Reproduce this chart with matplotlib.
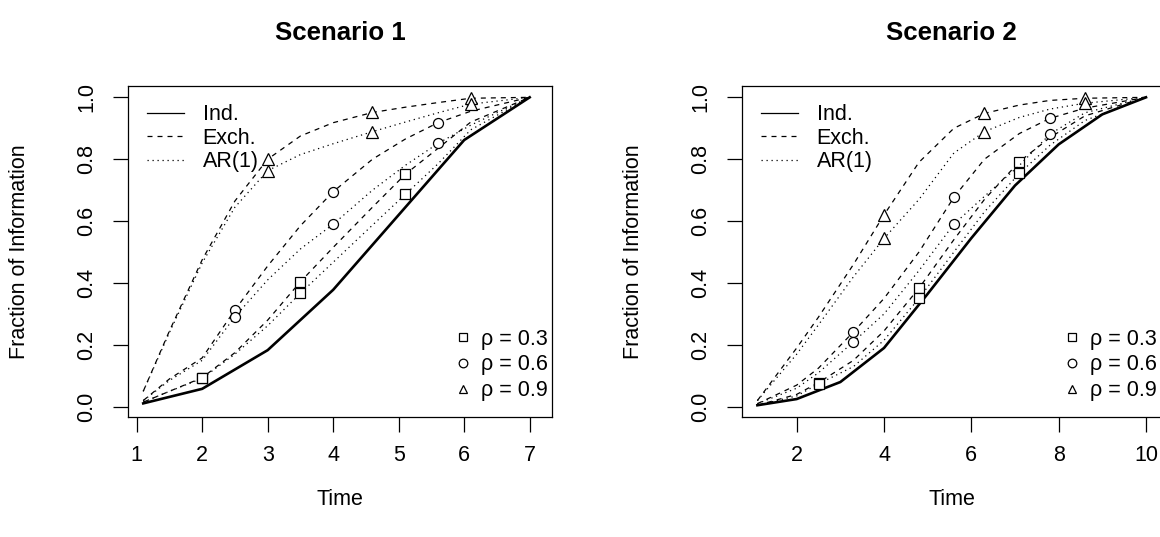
import matplotlib
matplotlib.use("Agg")
import matplotlib.pyplot as plt
from matplotlib.lines import Line2D

plt.rcParams['font.family'] = ['Liberation Sans', 'DejaVu Sans']
plt.rcParams['lines.scale_dashes'] = False

# Scenario 1 -- independence working correlation
s1_ind_time = [1.1, 2, 3, 4, 5, 6, 7]
s1_ind = [0.011, 0.058, 0.183, 0.378, 0.62, 0.862, 1.0]

# Scenario 1 -- exchangeable / AR(1) curves for rho = 0.3, 0.6, 0.9
s1_time = [1.1, 1.5, 2.0, 2.5, 3.0, 3.5, 4.0, 4.6, 5.1, 5.6, 6.1, 7.0]
s1_exch_03 = [0.015, 0.05, 0.094, 0.175, 0.28, 0.404, 0.515, 0.645, 0.751, 0.835, 0.92, 1.0]
s1_ar1_03 = [0.015, 0.05, 0.092, 0.17, 0.262, 0.367, 0.467, 0.587, 0.686, 0.785, 0.895, 1.0]
s1_exch_06 = [0.02, 0.09, 0.158, 0.313, 0.455, 0.585, 0.695, 0.80, 0.865, 0.918, 0.955, 1.0]
s1_ar1_06 = [0.02, 0.085, 0.15, 0.291, 0.41, 0.51, 0.59, 0.70, 0.78, 0.851, 0.91, 1.0]
s1_exch_09 = [0.05, 0.245, 0.475, 0.665, 0.80, 0.875, 0.918, 0.951, 0.968, 0.983, 0.997, 1.0]
s1_ar1_09 = [0.05, 0.24, 0.465, 0.645, 0.763, 0.815, 0.85, 0.889, 0.92, 0.95, 0.978, 1.0]

# Scenario 2
s2_ind_time = [1.1, 2, 3, 4, 5, 6, 7, 8, 9, 10]
s2_ind = [0.005, 0.025, 0.08, 0.19, 0.365, 0.545, 0.715, 0.848, 0.945, 1.0]

s2_time = [1.1, 2.0, 2.5, 3.3, 4.0, 4.8, 5.6, 6.3, 7.1, 7.8, 8.6, 10.0]
s2_exch_03 = [0.005, 0.04, 0.078, 0.15, 0.245, 0.383, 0.54, 0.67, 0.792, 0.87, 0.94, 1.0]
s2_ar1_03 = [0.005, 0.035, 0.074, 0.13, 0.215, 0.35, 0.50, 0.63, 0.754, 0.845, 0.925, 1.0]
s2_exch_06 = [0.01, 0.07, 0.125, 0.242, 0.35, 0.50, 0.677, 0.80, 0.883, 0.932, 0.965, 1.0]
s2_ar1_06 = [0.01, 0.06, 0.11, 0.21, 0.30, 0.44, 0.59, 0.68, 0.78, 0.881, 0.95, 1.0]
s2_exch_09 = [0.02, 0.19, 0.29, 0.46, 0.62, 0.79, 0.90, 0.948, 0.975, 0.99, 0.997, 1.0]
s2_ar1_09 = [0.02, 0.17, 0.265, 0.42, 0.544, 0.67, 0.82, 0.889, 0.935, 0.962, 0.981, 1.0]

rhos = [0.3, 0.6, 0.9]
rho_markers = ['s', 'o', '^']
# which time points carry a symbol for each rho
marker_idx = [[2, 5, 8], [3, 6, 9], [4, 7, 10]]

FS = 15.5
DASH = (0, (3.6, 3.6))
DOT = (0, (0.9, 2.7))


def draw_panel(ax, title, ind_t, ind_v, t, exch, ar1, xlim, xticks):
    ax.plot(ind_t, ind_v, color='black', lw=1.9)
    for k in range(3):
        e, a = exch[k], ar1[k]
        ax.plot(t, e, color='black', lw=0.9, linestyle=DASH)
        ax.plot(t, a, color='black', lw=0.9, linestyle=DOT)
        ms = 8.5 if rho_markers[k] == '^' else 7.2
        for vals in (e, a):
            ax.plot([t[i] for i in marker_idx[k]], [vals[i] for i in marker_idx[k]],
                    linestyle='none', marker=rho_markers[k], ms=ms,
                    mfc='white', mec='black', mew=0.9)

    ax.set_xlim(*xlim)
    ax.set_ylim(-0.034, 1.0365)
    ax.set_xticks(xticks)
    ax.set_yticks([0.0, 0.2, 0.4, 0.6, 0.8, 1.0])
    ax.set_yticklabels(['0.0', '0.2', '0.4', '0.6', '0.8', '1.0'])
    ax.tick_params(direction='out', length=10.8, width=0.9, labelsize=FS, color='black')
    ax.tick_params(axis='x', pad=9.5)
    ax.tick_params(axis='y', pad=11.5)
    for lab in ax.get_yticklabels():
        lab.set_rotation(90)
        lab.set_va('center')
    for sp in ax.spines.values():
        sp.set_linewidth(0.9)

    ax.set_title(title, fontsize=18.6, fontweight='bold', pad=33)
    ax.set_xlabel('Time', fontsize=FS, labelpad=16)
    ax.set_ylabel('Fraction of Information', fontsize=FS, labelpad=33)

    line_handles = [Line2D([], [], color='black', lw=0.9),
                    Line2D([], [], color='black', lw=0.9, linestyle=DASH),
                    Line2D([], [], color='black', lw=0.9, linestyle=DOT)]
    leg1 = ax.legend(line_handles, ['Ind.', 'Exch.', 'AR(1)'], loc='upper left',
                     frameon=False, fontsize=FS, handlelength=1.75, handletextpad=0.85,
                     labelspacing=0.12, borderaxespad=0.3, borderpad=0.55)
    ax.add_artist(leg1)
    mark_handles = [Line2D([], [], linestyle='none', marker=m, ms=6.2, mfc='white',
                           mec='black', mew=0.9) for m in rho_markers]
    ax.legend(mark_handles, ['ρ = %.1f' % r for r in rhos], loc='lower right',
              bbox_to_anchor=(0.99, 0.049), frameon=False, fontsize=FS,
              handlelength=0.8, handletextpad=0.45, labelspacing=0.22,
              borderaxespad=0.0, borderpad=0.0)


fig = plt.figure(figsize=(11.6, 5.37), dpi=100)
ax1 = fig.add_axes([0.1106, 0.2229, 0.3655, 0.6169])
ax2 = fig.add_axes([0.6399, 0.2229, 0.3612, 0.6169])

draw_panel(ax1, 'Scenario 1', s1_ind_time, s1_ind, s1_time,
           [s1_exch_03, s1_exch_06, s1_exch_09], [s1_ar1_03, s1_ar1_06, s1_ar1_09],
           (0.872, 7.345), [1, 2, 3, 4, 5, 6, 7])
draw_panel(ax2, 'Scenario 2', s2_ind_time, s2_ind, s2_time,
           [s2_exch_03, s2_exch_06, s2_exch_09], [s2_ar1_03, s2_ar1_06, s2_ar1_09],
           (0.754, 10.35), [2, 4, 6, 8, 10])

fig.savefig('out.png', dpi=100)
